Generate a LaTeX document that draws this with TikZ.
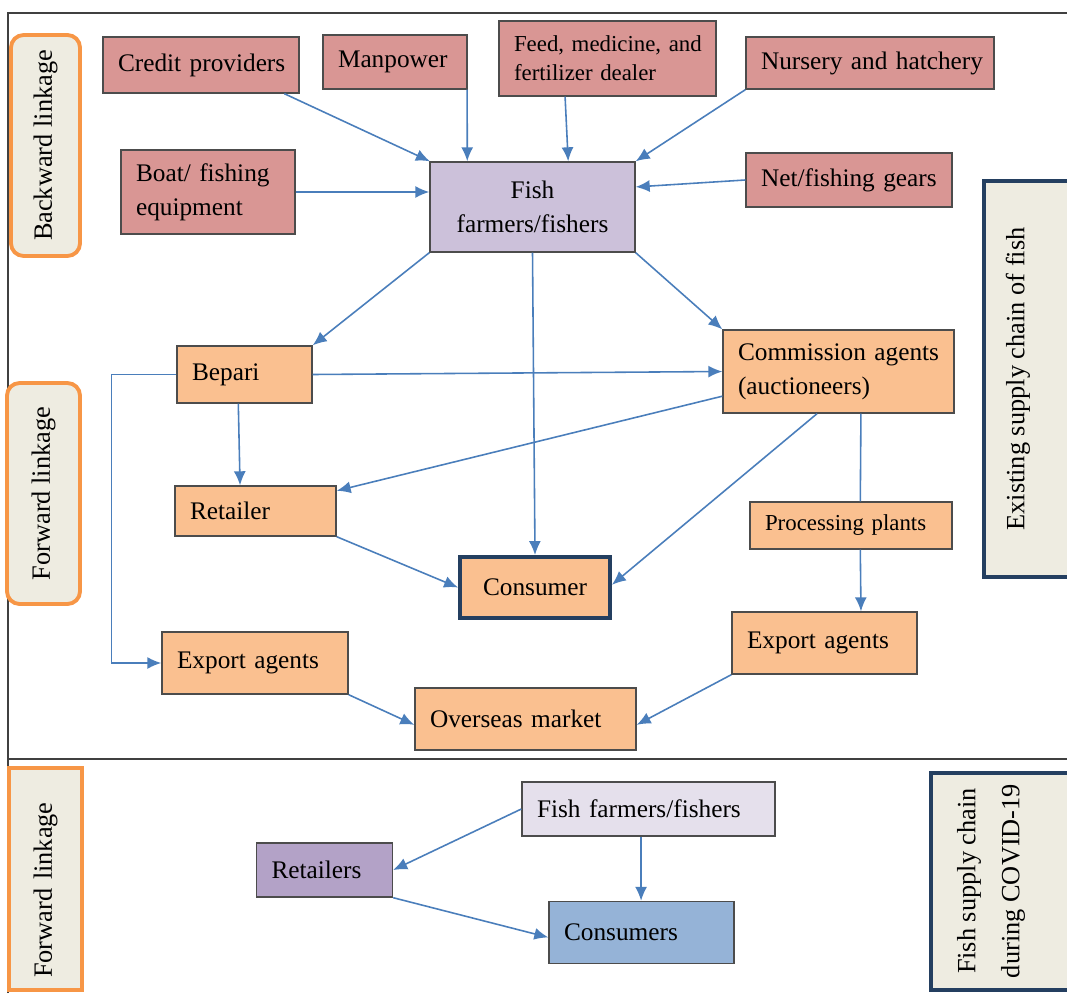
\documentclass[tikz,border=0pt]{standalone}
\usepackage{fontspec}
\setmainfont{Liberation Serif}
\usetikzlibrary{arrows.meta}
\definecolor{rosebox}{HTML}{D99694}
\definecolor{peach}{HTML}{FAC090}
\definecolor{lilac}{HTML}{CCC1DA}
\definecolor{paleLilac}{HTML}{E5E0EC}
\definecolor{mauve}{HTML}{B3A2C7}
\definecolor{skyblue}{HTML}{95B3D7}
\definecolor{panel}{HTML}{EEECE1}
\definecolor{linkorange}{HTML}{F79646}
\definecolor{navy}{HTML}{243F60}
\definecolor{flowblue}{HTML}{4A7EBB}
\tikzset{
  every node/.style={font=\fontsize{14.4}{19.5}\selectfont},
  actor/.style={draw=black!70, line width=0.8pt, align=left, inner xsep=0.3cm, inner ysep=0.1cm},
  input/.style={actor, fill=rosebox},
  market/.style={actor, fill=peach},
  flow/.style={-{Latex[length=0.28cm, width=0.24cm]}, draw=flowblue, line width=0.9pt},
  linkage/.style={draw=linkorange, line width=2.2pt, fill=panel, rotate=90,
    minimum width=4.42cm, font=\fontsize{15}{19}\selectfont},
  chain/.style={draw=navy, line width=2.2pt, fill=panel},
  frame/.style={draw=black!75, line width=0.6pt},
}
\begin{document}
\begin{tikzpicture}[x=0.02cm, y=-0.02cm]
	\useasboundingbox (0,0) rectangle (1067,993);
	\draw[frame] (8,993) -- (8,13) -- (1067,13);
	\draw[frame] (8,759) -- (1067,759);

	% side panels
	\node[linkage, rounded corners=0.25cm, minimum height=1.38cm] (backlink) at (45.5,145.5) {Backward linkage};
	\node[linkage, rounded corners=0.25cm, minimum height=1.46cm] (fwdlink) at (43.5,493.5) {Forward linkage};
	\node[linkage, minimum height=1.46cm, align=left, inner xsep=0.24cm, text width=3.96cm] (fwdlow) at (45.5,879) {Forward~linkage};
	\node[chain, minimum width=1.82cm, minimum height=7.92cm] (existing) at (1029.5,379) {};
	\node[rotate=90, font=\fontsize{15}{19}\selectfont] (existingtxt) at (1018,379) {Existing supply chain of fish};
	\node[chain, minimum width=2.88cm, minimum height=4.34cm] (covid) at (1003,881.5) {};
	\node[rotate=90, align=center, font=\fontsize{15}{25}\selectfont] (covidtxt) at (991,881) {Fish supply chain\\during COVID-19};

	% backward linkage
	\node[input, text width=3.32cm, minimum height=1.12cm] (credit) at (201,65) {\mbox{Credit providers}};
	\node[input, text width=2.28cm, minimum height=1.08cm] (man) at (395,62) {Manpower};
	\node[input, text width=3.74cm, minimum height=1.5cm, font=\fontsize{13}{16.5}\selectfont] (feed) at (607.5,58.5) {\mbox{Feed, medicine, and}\\fertilizer dealer};
	\node[input, text width=4.36cm, minimum height=1.04cm] (nursery) at (870,63) {\mbox{Nursery and hatchery}};
	\node[input, text width=2.88cm, minimum height=1.68cm] (boat) at (208,192) {Boat/ fishing\\equipment};
	\node[input, text width=3.52cm, minimum height=1.08cm] (net) at (849,180) {\mbox{Net/fishing gears}};
	\node[actor, fill=lilac, align=center, text width=3.5cm, minimum height=1.8cm] (fish) at (532.5,207) {Fish\\farmers/fishers};

	% forward linkage
	\node[market, text width=2.1cm, minimum height=1.14cm] (bepari) at (244.5,374.5) {Bepari};
	\node[market, text width=4.02cm, minimum height=1.66cm] (comm) at (838.5,371.5) {\mbox{Commission agents}\\(auctioneers)};
	\node[market, text width=2.62cm, minimum height=1cm] (retailer) at (255.5,511) {Retailer};
	\node[market, text width=3.44cm, minimum height=0.94cm, font=\fontsize{13}{16}\selectfont] (proc) at (851,525.5) {\mbox{Processing plants}};
	\node[market, draw=navy, line width=2.2pt, align=center, text width=2.4cm, minimum height=1.22cm] (consumer) at (535,587.5) {Consumer};
	\node[market, text width=3.12cm, minimum height=1.24cm] (exportl) at (255,663) {Export agents};
	\node[market, text width=3.1cm, minimum height=1.24cm] (exportr) at (824.5,643) {Export agents};
	\node[market, text width=3.82cm, minimum height=1.24cm] (overseas) at (525.5,719) {Overseas market};

	% during COVID-19
	\node[actor, fill=paleLilac, text width=4.46cm, minimum height=1.08cm] (fishl) at (648.5,809) {\mbox{Fish farmers/fishers}};
	\node[actor, fill=mauve, text width=2.12cm, minimum height=1.08cm] (retl) at (324.5,870) {Retailers};
	\node[actor, fill=skyblue, text width=3.1cm, minimum height=1.24cm] (cons) at (641.5,932.5) {Consumers};

	% inputs
	\draw[flow] (credit.-19.5) -- (fish.156);
	\draw[flow] (man.-21) -- (fish.145.5);
	\draw[flow] (feed.222.9) -- (fish.52.5);
	\draw[flow] (nursery.south west) -- (fish.north east);
	\draw[flow] (boat.east) -- (boat.east -| fish.west);
	\draw[flow] (net.west) -- (fish.11.5);

	% marketing channels
	\draw[flow] (fish.south west) -- (bepari.north east);
	\draw[flow] (fish.south) -- (consumer.north);
	\draw[flow] (fish.south east) -- (comm.north west);
	\draw[flow] (bepari.east) -- (comm.west);
	\draw[flow] (bepari.-102.8) -- (retailer.121.8);
	\draw[flow] (bepari.west) -- ++(-65,0) |- (exportl.west);
	\draw[flow] (comm.192.6) -- (retailer.14.6);
	\draw[flow] (comm.243.2) -- (consumer.2);
	\draw[flow, -] (comm.-62.6) -- (proc.69);
	\draw[flow] (proc.-69) -- (exportr.41.1);
	\draw[flow] (retailer.south east) -- (consumer.west);
	\draw[flow] (exportl.south east) -- (overseas.183);
	\draw[flow] (exportr.south west) -- (overseas.-3);

	% during COVID-19
	\draw[flow] (fishl.west) -- (retl.east);
	\draw[flow] (fishl.-105.5) -- (fishl.-105.5 |- cons.north);
	\draw[flow] (retl.south east) -- (cons.183);
\end{tikzpicture}
\end{document}
